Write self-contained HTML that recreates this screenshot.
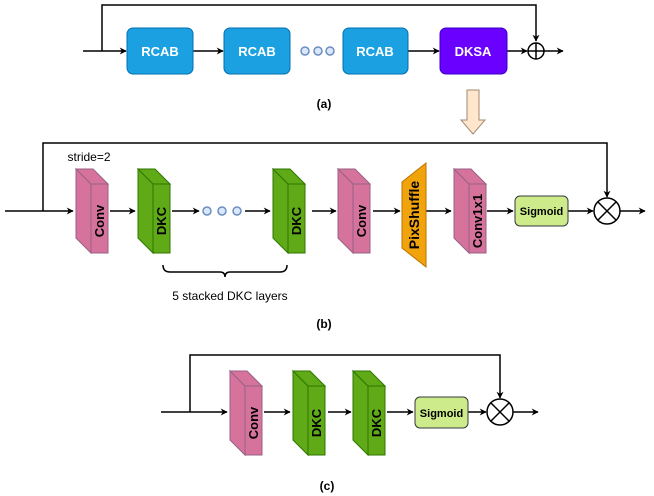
<!DOCTYPE html>
<html><head><meta charset="utf-8"><style>
body{margin:0;background:#fff}
svg{display:block}
text{font-family:"Liberation Sans",Arial,sans-serif}
</style></head><body>
<svg width="654" height="496" viewBox="0 0 654 496" xmlns="http://www.w3.org/2000/svg">
<defs>
<marker id="ar" viewBox="0 0 10 10" refX="9" refY="5" markerWidth="7" markerHeight="7" orient="auto" markerUnits="userSpaceOnUse"><path d="M0,0 L10,5 L0,10 L3,5 z" fill="#000"/></marker>
<g id="pink"><polygon points="0,0 15,15 15,84 0,69" fill="#d5739d" stroke="#996185"/><polygon points="0,0 17,0 32,15 15,15" fill="#d5739d" stroke="#996185"/><rect x="15" y="15" width="17" height="69" fill="#d5739d" stroke="#996185"/></g>
<g id="green"><polygon points="0,0 15,15 15,84 0,69" fill="#60a917" stroke="#2d7600"/><polygon points="0,0 17,0 32,15 15,15" fill="#60a917" stroke="#2d7600"/><rect x="15" y="15" width="17" height="69" fill="#60a917" stroke="#2d7600"/></g>
</defs>
<g stroke="#000" stroke-width="1.5" fill="none">
<polyline points="102,51 102,5 536,5 536,41" marker-end="url(#ar)"/>
<line x1="83" y1="51" x2="126" y2="51" marker-end="url(#ar)"/>
<line x1="193" y1="51" x2="223" y2="51" marker-end="url(#ar)"/>
<line x1="408" y1="51" x2="439" y2="51" marker-end="url(#ar)"/>
<line x1="507" y1="51" x2="527" y2="51" marker-end="url(#ar)"/>
<line x1="544" y1="51" x2="563" y2="51" marker-end="url(#ar)"/>
<polyline points="43,211 43,143 607,143 607,197" marker-end="url(#ar)"/>
<line x1="5" y1="211" x2="73" y2="211" marker-end="url(#ar)"/>
<line x1="110" y1="211" x2="135" y2="211" marker-end="url(#ar)"/>
<line x1="172" y1="211" x2="199" y2="211" marker-end="url(#ar)"/>
<line x1="245" y1="211" x2="270" y2="211" marker-end="url(#ar)"/>
<line x1="312" y1="211" x2="336" y2="211" marker-end="url(#ar)"/>
<line x1="373" y1="211" x2="400" y2="211" marker-end="url(#ar)"/>
<line x1="426" y1="211" x2="451" y2="211" marker-end="url(#ar)"/>
<line x1="487" y1="211" x2="513" y2="211" marker-end="url(#ar)"/>
<line x1="568" y1="211" x2="593" y2="211" marker-end="url(#ar)"/>
<line x1="620" y1="211" x2="645" y2="211" marker-end="url(#ar)"/>
<path d="M163,265 Q163,272 170,272 L220,272 Q225,272 225,277 Q225,272 230,272 L280,272 Q287,272 287,265"/>
<polyline points="190,412 190,355 500,355 500,398" marker-end="url(#ar)"/>
<line x1="161" y1="412" x2="227" y2="412" marker-end="url(#ar)"/>
<line x1="264" y1="412" x2="290" y2="412" marker-end="url(#ar)"/>
<line x1="328" y1="412" x2="351" y2="412" marker-end="url(#ar)"/>
<line x1="387" y1="412" x2="413" y2="412" marker-end="url(#ar)"/>
<line x1="468" y1="412" x2="486" y2="412" marker-end="url(#ar)"/>
<line x1="513" y1="412" x2="538" y2="412" marker-end="url(#ar)"/>
</g>
<rect x="127" y="28" width="66" height="46" rx="6" fill="#1ba1e2" stroke="#006eaf"/>
<rect x="224" y="28" width="66" height="46" rx="6" fill="#1ba1e2" stroke="#006eaf"/>
<rect x="343" y="28" width="65" height="46" rx="6" fill="#1ba1e2" stroke="#006eaf"/>
<rect x="440" y="28" width="67" height="46" rx="6" fill="#6a00ff" stroke="#3700cc"/>
<g fill="#fff" font-weight="bold" font-size="13" text-anchor="middle">
<text x="160" y="56">RCAB</text><text x="257" y="56">RCAB</text><text x="375" y="56">RCAB</text><text x="473" y="56">DKSA</text>
</g>
<g fill="#dae8fc" stroke="#6c8ebf" stroke-width="1.5">
<circle cx="305" cy="51" r="4"/><circle cx="318" cy="51" r="4"/><circle cx="330" cy="51" r="4"/>
<circle cx="207" cy="211" r="4"/><circle cx="222" cy="211" r="4"/><circle cx="237" cy="211" r="4"/>
</g>
<circle cx="536" cy="51" r="8" fill="#fff" stroke="#000" stroke-width="1.5"/>
<path d="M528,51 H544 M536,43 V59" stroke="#000" stroke-width="1.5"/>
<text x="324" y="108" font-size="12" font-weight="bold" text-anchor="middle">(a)</text>
<polygon points="467,90 479,90 479,120 485,120 473,134 461,120 467,120" fill="#ffe6cc" stroke="#a08a70"/>
<text x="89" y="161" font-size="12" text-anchor="middle">stride=2</text>
<use href="#pink" x="76" y="169"/>
<use href="#green" x="138" y="169"/>
<use href="#green" x="273" y="169"/>
<use href="#pink" x="338" y="169"/>
<polygon points="402,182 426,163 426,267 402,248" fill="#f0a30a" stroke="#bd7000"/>
<use href="#pink" x="454" y="169"/>
<rect x="515" y="196" width="53" height="30" rx="5" fill="#cdeb8b" stroke="#36393d"/>
<text x="541.5" y="215" font-size="11" font-weight="bold" text-anchor="middle">Sigmoid</text>
<g font-weight="bold" font-size="13" text-anchor="middle">
<text transform="translate(104,221) rotate(-90)">Conv</text>
<text transform="translate(166,221) rotate(-90)">DKC</text>
<text transform="translate(301,221) rotate(-90)">DKC</text>
<text transform="translate(366,221) rotate(-90)">Conv</text>
<text transform="translate(419,215) rotate(-90)" font-size="14">PixShuffle</text>
<text transform="translate(482,221) rotate(-90)">Conv1x1</text>
</g>
<circle cx="607" cy="211" r="13" fill="#fff" stroke="#000" stroke-width="1.5"/>
<path d="M598,202 L616,220 M616,202 L598,220" stroke="#000" stroke-width="1.5"/>
<text x="230" y="300" font-size="12" text-anchor="middle">5 stacked DKC layers</text>
<text x="324" y="328" font-size="12" font-weight="bold" text-anchor="middle">(b)</text>
<use href="#pink" x="230" y="371"/>
<use href="#green" x="293" y="371"/>
<use href="#green" x="353" y="371"/>
<g font-weight="bold" font-size="13" text-anchor="middle">
<text transform="translate(258,423) rotate(-90)">Conv</text>
<text transform="translate(321,423) rotate(-90)">DKC</text>
<text transform="translate(381,423) rotate(-90)">DKC</text>
</g>
<rect x="415" y="397" width="53" height="31" rx="5" fill="#cdeb8b" stroke="#36393d"/>
<text x="441.5" y="417" font-size="11" font-weight="bold" text-anchor="middle">Sigmoid</text>
<circle cx="500" cy="412" r="13" fill="#fff" stroke="#000" stroke-width="1.5"/>
<path d="M491,403 L509,421 M509,403 L491,421" stroke="#000" stroke-width="1.5"/>
<text x="327" y="490" font-size="12" font-weight="bold" text-anchor="middle">(c)</text>
</svg>
</body></html>
